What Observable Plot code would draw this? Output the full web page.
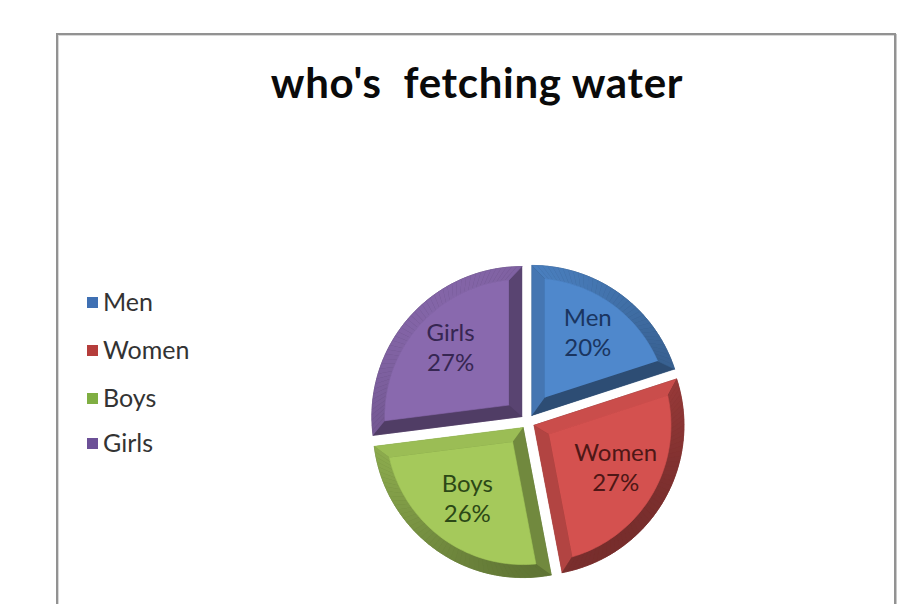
<!DOCTYPE html>
<html>
<head>
<meta charset="utf-8">
<script src="https://cdn.jsdelivr.net/npm/d3@7"></script>
<script src="https://cdn.jsdelivr.net/npm/@observablehq/plot@0.6"></script>
<style>
  html, body { margin: 0; padding: 0; background: #ffffff; }
  body { width: 897px; height: 604px; position: relative; overflow: hidden; font-family: Lato, "Open Sans", sans-serif; }
  #frame { position: absolute; left: 56px; top: 33px; width: 836px; height: 700px;
           border: 2px solid #929292; box-shadow: inset 1px 1px 0 #d8d8d8, 1px 1px 0 #c8c8c8; }
  #title { position: absolute; left: 477px; top: 61px; transform: translateX(-50%);
           font: bold 42px/1 Lato, sans-serif; letter-spacing: 0.7px; color: #0a0a0a; white-space: pre; }
  .lg { position: absolute; left: 87px; height: 30px; display: flex; align-items: center;
        font: 25px/30px Lato, sans-serif; color: #333; }
  .lg .sw { width: 11px; height: 11px; margin-right: 5px; margin-top: 2px; }
  #pie { position: absolute; left: 347px; top: 241px; }
</style>
</head>
<body>
<div id="frame"></div>
<div id="title"></div>
<div id="legend"></div>
<div id="pie"></div>
<script>
// ---- data ----
const chartTitle = "who's  fetching water";
const categories = ["Men", "Women", "Boys", "Girls"];
const values = [20, 27, 26, 27];
const percentLabels = ["20%", "27%", "26%", "27%"];

// ---- styles ----
const faceColors  = ["#4f88cc", "#d4514f", "#a5c95b", "#8969ae"];
const swatchColors = ["#3f70b3", "#b53d3b", "#7fae42", "#6c5097"];
const labelColors = ["#1a3560", "#4e1716", "#2c4816", "#362652"];
const legendTops = [286, 334, 382, 427];

document.getElementById("title").textContent = chartTitle;

// legend
const legend = d3.select("#legend");
categories.forEach((c, i) => {
  const item = legend.append("div").attr("class", "lg").style("top", legendTops[i] + "px");
  item.append("div").attr("class", "sw").style("background", swatchColors[i]);
  item.append("span").text(c);
});

// ---- pie geometry (computed from values) ----
const R = 150, explode = 7.5, bevel = 13;
const L = (() => { const lx = -0.55, ly = 0.83, n = Math.hypot(lx, ly); return [lx / n, ly / n]; })();
function shade(color, n) {
  const s = 0.76 + 0.2 * (n[0] * L[0] + n[1] * L[1]);
  const c = d3.rgb(color);
  return d3.rgb(c.r * s, c.g * s, c.b * s).formatHex();
}
const arcs = d3.pie().sort(null).value(d => d)(values);
const polys = [];
const labelRows = [];
let pid = 0;
function addPoly(pts, color) {
  const id = pid++;
  pts.forEach(p => polys.push({id, x: p[0], y: p[1], color}));
}
arcs.forEach((arc, i) => {
  const a0 = arc.startAngle, a1 = arc.endAngle, am = (a0 + a1) / 2, h = (a1 - a0) / 2;
  const ox = explode * Math.sin(am), oy = explode * Math.cos(am);
  const P = (r, a) => [ox + r * Math.sin(a), oy + r * Math.cos(a)];
  const base = faceColors[i];
  const delta = Math.asin(bevel / (R - bevel));
  const tip = [ox, oy];
  const dTip = bevel / Math.sin(h);
  const innerTip = [ox + dTip * Math.sin(am), oy + dTip * Math.cos(am)];
  const N = Math.max(8, Math.ceil((a1 - a0) / (Math.PI / 90)));
  const outer = d3.range(N + 1).map(k => P(R, a0 + (a1 - a0) * k / N));
  const inner = d3.range(N + 1).map(k => P(R - bevel, a0 + delta + (a1 - a0 - 2 * delta) * k / N));
  addPoly([tip, ...outer], shade(base, [0, -1]));
  addPoly([P(R, a0), tip, innerTip, inner[0]], shade(base, [-Math.cos(a0), Math.sin(a0)]));
  addPoly([tip, P(R, a1), inner[N], innerTip], shade(base, [Math.cos(a1), -Math.sin(a1)]));
  for (let k = 0; k < N; k++) {
    const tm = a0 + (a1 - a0) * (k + 0.5) / N;
    addPoly([outer[k], outer[k + 1], inner[k + 1], inner[k]], shade(base, [Math.sin(tm), Math.cos(tm)]));
  }
  addPoly([innerTip, ...inner], base);
  const rl = 95;
  labelRows.push({x: ox + rl * Math.sin(am), y: oy + rl * Math.cos(am),
                  text: categories[i] + "\n" + percentLabels[i], color: labelColors[i]});
});

const S = 180;
const chart = Plot.plot({
  width: 2 * S, height: 2 * S, margin: 0,
  x: {domain: [-S, S], axis: null},
  y: {domain: [-S, S], axis: null},
  color: {type: "identity"},
  style: {background: "transparent", fontFamily: "Lato, sans-serif"},
  marks: [
    Plot.line(polys, {x: "x", y: "y", z: "id", fill: "color", stroke: "color", strokeWidth: 0.6, curve: "linear"}),
    Plot.text(labelRows, {x: "x", y: "y", dy: -7, text: "text", fill: "color", fontSize: 24, lineHeight: 1.25})
  ]
});
document.getElementById("pie").appendChild(chart);
</script>
</body>
</html>
